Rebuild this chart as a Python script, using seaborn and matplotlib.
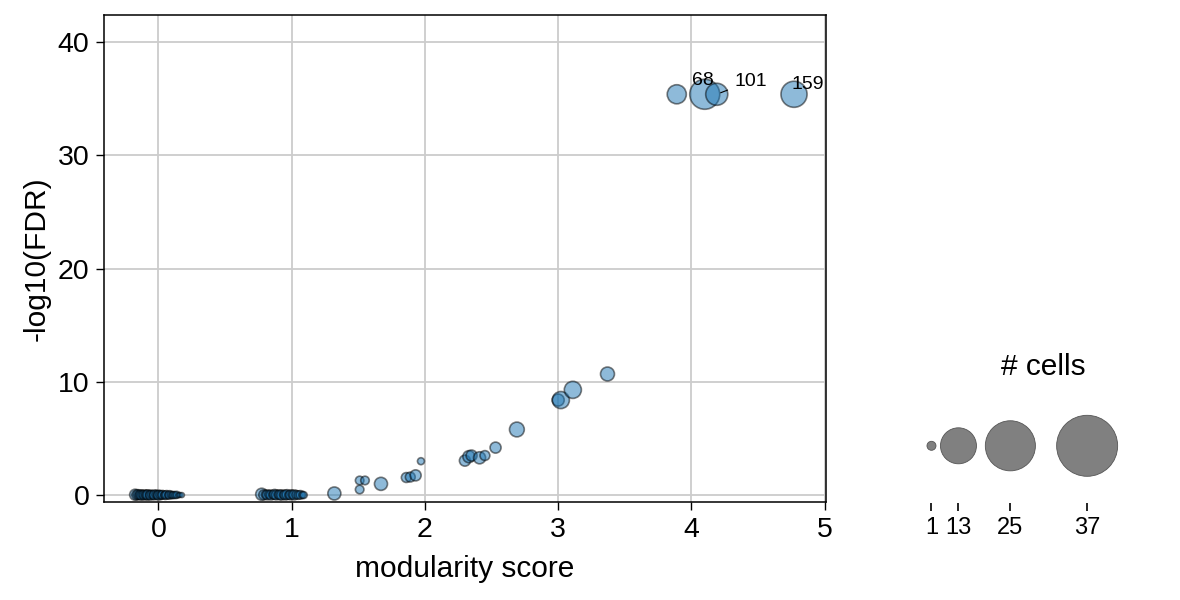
import numpy as np
import pandas as pd
import matplotlib
matplotlib.use("Agg")
import matplotlib.pyplot as plt
import seaborn as sns

# modularity score / significance / size per group
scores = [
    # dense group of points around 0
    -0.175, -0.163, -0.152, -0.146, -0.133, -0.124, -0.118, -0.104, -0.097, -0.085,
    -0.078, -0.066, -0.057, -0.049, -0.036, -0.028, -0.017, -0.006, 0.003, 0.012,
    0.024, 0.031, 0.043, 0.052, 0.061, 0.074, 0.083, 0.092, 0.104, 0.113,
    0.126, 0.138, 0.149, 0.161, 0.176,
    # dense group around 1
    0.775, 0.79, 0.805, 0.818, 0.83, 0.846, 0.86, 0.872, 0.885, 0.9,
    0.913, 0.925, 0.94, 0.952, 0.965, 0.98, 0.993, 1.005, 1.02, 1.034,
    1.05, 1.065, 1.08, 1.09,
    # the rest
    1.32, 1.51, 1.55, 1.51, 1.67, 1.86, 1.89, 1.93, 1.97, 2.30,
    2.33, 2.35, 2.41, 2.45, 2.53, 2.69, 3.00, 3.02, 3.11, 3.37,
    3.89, 4.10, 4.19, 4.77,
]
neg_log10_fdr = [
    0.04, 0.02, 0.05, 0.01, 0.03, 0.00, 0.04, 0.02, 0.05, 0.01,
    0.03, 0.02, 0.00, 0.04, 0.01, 0.03, 0.05, 0.02, 0.00, 0.03,
    0.01, 0.04, 0.02, 0.00, 0.03, 0.01, 0.02, 0.04, 0.00, 0.02,
    0.01, 0.03, 0.00, 0.02, 0.01,
    0.08, 0.03, 0.05, 0.02, 0.06, 0.01, 0.04, 0.07, 0.02, 0.05,
    0.03, 0.01, 0.04, 0.02, 0.05, 0.01, 0.03, 0.06, 0.02, 0.04,
    0.01, 0.03, 0.02, 0.01,
    0.15, 1.30, 1.30, 0.50, 1.00, 1.56, 1.60, 1.75, 3.00, 3.05,
    3.40, 3.50, 3.30, 3.50, 4.20, 5.80, 8.40, 8.40, 9.30, 10.70,
    35.4, 35.4, 35.4, 35.4,
]
n_cells = [
    5, 4, 4, 3, 4, 4, 3, 4, 3, 4,
    4, 3, 4, 3, 3, 4, 3, 3, 4, 3,
    3, 3, 2, 3, 3, 2, 3, 2, 2, 2,
    2, 2, 1, 1, 1,
    6, 4, 3, 4, 3, 4, 3, 4, 4, 3,
    4, 4, 3, 4, 4, 3, 4, 3, 4, 3,
    3, 3, 2, 2,
    7, 3, 3, 3, 7, 4, 4, 5, 2, 5,
    6, 5, 6, 4, 5, 9, 6, 12, 12, 8,
    15, 37, 20, 28,
]
# group ids shown next to the top hits (keyed by modularity score)
group_labels = {4.10: "68", 4.19: "101", 4.77: "159"}
label_offsets = {"68": (-9, 6.5), "101": (13, 6.3), "159": (-1.7, 3.9)}

legend_counts = [1, 13, 25, 37]

df = pd.DataFrame({"score": scores, "fdr": neg_log10_fdr, "n_cells": n_cells})

sns.set_style("whitegrid")
plt.rcParams["font.family"] = ["Liberation Sans", "DejaVu Sans"]
plt.rcParams["axes.edgecolor"] = "black"
plt.rcParams["axes.linewidth"] = 1.1
plt.rcParams["grid.color"] = "#cccccc"
plt.rcParams["grid.linewidth"] = 1.3
plt.rcParams["text.color"] = "black"
plt.rcParams["axes.labelcolor"] = "black"
plt.rcParams["xtick.color"] = "black"
plt.rcParams["ytick.color"] = "black"
plt.rcParams["xtick.bottom"] = True
plt.rcParams["ytick.left"] = True

fig = plt.figure(figsize=(11.8, 6), dpi=100)
ax = fig.add_axes([0.088, 0.163, 0.612, 0.812])

sns.scatterplot(
    data=df, x="score", y="fdr", size="n_cells",
    sizes=(12.6, 466), size_norm=(1, 37),
    color="tab:blue", alpha=0.5, edgecolor="black", linewidth=1.2,
    legend=False, ax=ax,
)
for score, text in group_labels.items():
    row = df[np.isclose(df.score, score)].iloc[0]
    dx, dy = label_offsets[text]
    kw = {}
    if text == "101":
        kw["arrowprops"] = dict(arrowstyle="-", color="black", lw=0.8,
                                shrinkA=3, shrinkB=3)
    ax.annotate(text, (row.score, row.fdr), xytext=(dx, dy),
                textcoords="offset points", ha="left", va="baseline",
                fontsize=14, annotation_clip=False, **kw)

ax.set_xlim(-0.41, 5.01)
ax.set_ylim(-0.62, 42.4)
ax.set_xticks([0, 1, 2, 3, 4, 5])
ax.set_yticks([0, 10, 20, 30, 40])
ax.tick_params(labelsize=20.5, width=1, length=5.5, pad=5)
ax.set_xlabel("modularity score", fontsize=21.5, labelpad=9)
ax.set_ylabel("-log10(FDR)", fontsize=21.5, labelpad=5)

# size legend
lax = fig.add_axes([0.763, 0.162, 0.2424, 0.19])
pos = np.cumsum(legend_counts)
leg_df = pd.DataFrame({"x": pos, "y": np.zeros(len(pos)), "n": legend_counts})
sns.scatterplot(
    data=leg_df, x="x", y="y", size="n", sizes=(42, 1929), size_norm=(1, 37),
    color="gray", edgecolor="#555555", linewidth=0.6, legend=False, ax=lax,
)
lax.set_xlim(-14, 123.8)
lax.set_ylim(-1, 1)
lax.grid(False)
for sp in lax.spines.values():
    sp.set_visible(False)
lax.set_xticks(pos)
lax.set_xticklabels([str(c) for c in legend_counts])
lax.set_yticks([])
lax.tick_params(axis="x", labelsize=17, length=6, width=1.2, pad=4)
lax.set_xlabel("")
lax.set_ylabel("")
lax.set_title("# cells", fontsize=21.5, pad=10)

fig.savefig("out.png", dpi=100)
